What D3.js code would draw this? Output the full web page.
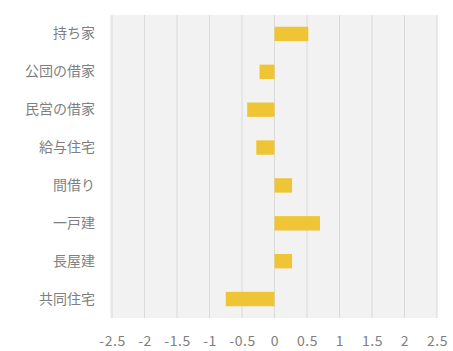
<!DOCTYPE html>
<html>
<head>
<meta charset="utf-8">
<script src="https://cdn.jsdelivr.net/npm/d3@7"></script>
<style>
  body { margin: 0; background: #fff; }
  text { font-family: "Noto Sans CJK JP", "Noto Sans", sans-serif; fill: #7f7f7f; }
</style>
</head>
<body>
<svg id="chart" width="453" height="351"></svg>
<script>
// categories (top to bottom) and values
const categories = ["持ち家", "公団の借家", "民営の借家", "給与住宅", "間借り", "一戸建", "長屋建", "共同住宅"];
const values = [0.52, -0.23, -0.42, -0.28, 0.27, 0.70, 0.27, -0.75];
const ticks = [-2.5, -2, -1.5, -1, -0.5, 0, 0.5, 1, 1.5, 2, 2.5];

const svg = d3.select("#chart");
const margin = { left: 112, right: 16, top: 15, bottom: 33 };
const W = 453, H = 351;

const x = d3.scaleLinear()
    .domain([-2.5, 2.5])
    .range([margin.left, W - margin.right]);

const y = d3.scaleBand()
    .domain(categories)
    .range([margin.top, H - margin.bottom])
    .paddingInner(0.62)
    .paddingOuter(0.31);

// fond de la zone de tracé
svg.append("rect")
    .attr("x", x(-2.5) - 2)
    .attr("y", margin.top)
    .attr("width", x(2.5) - x(-2.5) + 2)
    .attr("height", H - margin.bottom - margin.top)
    .attr("fill", "#f2f2f2");

// grille verticale
svg.append("g")
    .selectAll("line")
    .data(ticks)
    .join("line")
    .attr("x1", d => x(d))
    .attr("x2", d => x(d))
    .attr("y1", margin.top)
    .attr("y2", H - margin.bottom)
    .attr("stroke", "#dadada")
    .attr("stroke-width", 1);

// barres
svg.append("g")
    .selectAll("rect")
    .data(values)
    .join("rect")
    .attr("x", d => x(Math.min(0, d)))
    .attr("width", d => Math.abs(x(d) - x(0)))
    .attr("y", (d, i) => y(categories[i]))
    .attr("height", y.bandwidth())
    .attr("fill", "#efc535");

// axe des x
const xAxis = d3.axisBottom(x)
    .tickValues(ticks)
    .tickFormat(d => String(d))
    .tickSize(0)
    .tickPadding(18);
const gx = svg.append("g")
    .attr("transform", "translate(0," + (H - margin.bottom) + ")")
    .call(xAxis);
gx.select(".domain").remove();
gx.selectAll("text").attr("font-size", 14).attr("letter-spacing", 0.5).attr("fill", "#7f7f7f");

// axe des catégories
const yAxis = d3.axisLeft(y).tickSize(0).tickPadding(17);
const gy = svg.append("g")
    .attr("transform", "translate(" + margin.left + ",0)")
    .call(yAxis);
gy.select(".domain").remove();
gy.selectAll("text").attr("font-size", 14).attr("fill", "#7f7f7f");
</script>
</body>
</html>
